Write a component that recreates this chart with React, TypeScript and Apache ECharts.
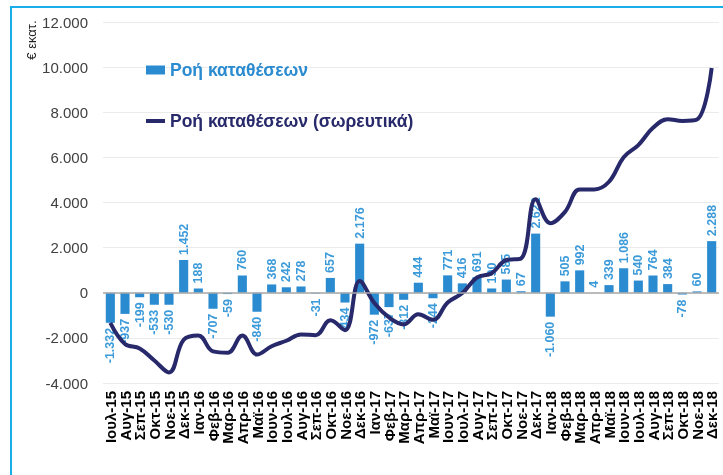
import React, { useEffect, useRef } from "react";
import * as echarts from "echarts";

const categories = [
  "Ιουλ-15", "Αυγ-15", "Σεπ-15", "Οκτ-15", "Νοε-15", "Δεκ-15",
  "Ιαν-16", "Φεβ-16", "Μαρ-16", "Απρ-16", "Μαϊ-16", "Ιουν-16",
  "Ιουλ-16", "Αυγ-16", "Σεπ-16", "Οκτ-16", "Νοε-16", "Δεκ-16",
  "Ιαν-17", "Φεβ-17", "Μαρ-17", "Απρ-17", "Μαϊ-17", "Ιουν-17",
  "Ιουλ-17", "Αυγ-17", "Σεπ-17", "Οκτ-17", "Νοε-17", "Δεκ-17",
  "Ιαν-18", "Φεβ-18", "Μαρ-18", "Απρ-18", "Μαϊ-18", "Ιουν-18",
  "Ιουλ-18", "Αυγ-18", "Σεπ-18", "Οκτ-18", "Νοε-18", "Δεκ-18",
];

const flows = [
  -1332, -937, -199, -533, -530, 1452,
  188, -707, -59, 760, -840, 368,
  242, 278, -31, 657, -434, 2176,
  -972, -637, -312, 444, -244, 771,
  416, 691, 190, 585, 67, 2622,
  -1060, 505, 992, 4, 339, 1086,
  540, 764, 384, -78, 60, 2288,
];

const cumulative = [
  -1332, -2269, -2468, -3001, -3531, -2079,
  -1891, -2598, -2657, -1897, -2737, -2369,
  -2127, -1849, -1880, -1223, -1657, 519,
  -453, -1090, -1402, -958, -1202, -431,
  -15, 676, 866, 1451, 1518, 4140,
  3080, 3585, 4577, 4581, 4920, 6006,
  6546, 7310, 7694, 7616, 7676, 9964,
];

const seriesNames = ["Ροή καταθέσεων", "Ροή καταθέσεων (σωρευτικά)"];

const BAR_COLOR = "#2a8bd1";
const LABEL_COLOR = "#3b9ad9";
const LINE_COLOR = "#27296b";
const FONT = "'Liberation Sans', Arial, sans-serif";

function fmt(v: number): string {
  const s = Math.abs(v).toString().replace(/\B(?=(\d{3})+(?!\d))/g, ".");
  return (v < 0 ? "-" : "") + s;
}

export default function App() {
  const ref = useRef<HTMLDivElement>(null);
  useEffect(() => {
    if (!ref.current) return;
    const chart = echarts.init(ref.current, null, { renderer: "svg" });
    chart.setOption({
      animation: false,
      textStyle: { fontFamily: FONT },
      graphic: [
        {
          type: "rect",
          shape: { x: 11, y: 7, width: 800, height: 600 },
          style: { fill: "none", stroke: "#19aeea", lineWidth: 2 },
          z: 0,
        },
        {
          type: "text",
          x: 31,
          y: 40,
          rotation: Math.PI / 2,
          style: {
            text: "€ εκατ.",
            font: `13px ${FONT}`,
            fill: "#222",
            align: "center",
            verticalAlign: "middle",
          },
        },
      ],
      legend: {
        orient: "vertical",
        left: 141,
        top: 56,
        itemGap: 33,
        itemWidth: 19,
        itemHeight: 9,
        symbolKeepAspect: true,
        textStyle: { fontSize: 17.5, fontWeight: "bold", fontFamily: FONT },
        data: [
          { name: seriesNames[0], icon: "rect", textStyle: { color: BAR_COLOR } },
          {
            name: seriesNames[1],
            icon: "path://M0,0h19v4h-19z",
            itemStyle: { color: LINE_COLOR },
            textStyle: { color: LINE_COLOR },
          },
        ],
      },
      grid: { left: 103, right: 4, top: 22, bottom: 92 },
      xAxis: {
        type: "category",
        data: categories,
        axisLine: { show: false, onZero: false },
        axisTick: { show: false },
        axisLabel: {
          rotate: 90,
          interval: 0,
          color: "#000",
          fontWeight: "bold",
          fontSize: 15,
          margin: 8,
          fontFamily: FONT,
        },
      },
      yAxis: {
        type: "value",
        min: -4000,
        max: 12000,
        interval: 2000,
        axisLine: { show: false },
        axisTick: { show: false },
        splitLine: { lineStyle: { color: "#ebebeb", width: 1 } },
        axisLabel: {
          color: "#404040",
          fontSize: 15,
          margin: 15,
          fontFamily: FONT,
          formatter: (v: number) => fmt(v),
        },
      },
      series: [
        {
          name: seriesNames[0],
          type: "bar",
          barWidth: "62%",
          itemStyle: { color: BAR_COLOR },
          data: flows.map((v) => ({
            value: v,
            label: {
              show: true,
              position: v >= 0 ? "top" : "bottom",
              rotate: 90,
              align: v >= 0 ? "left" : "right",
              verticalAlign: "middle",
              color: LABEL_COLOR,
              fontWeight: "bold",
              fontSize: 12.5,
              fontFamily: FONT,
              distance: 5,
              formatter: () => fmt(v),
            },
          })),
          markLine: {
            silent: true,
            symbol: "none",
            label: { show: false },
            lineStyle: { color: "#a8a8a8", type: "solid", width: 1.5 },
            data: [{ yAxis: 0 }],
          },
          z: 2,
        },
        {
          name: seriesNames[1],
          type: "line",
          smooth: 0.4,
          symbol: "none",
          lineStyle: { color: LINE_COLOR, width: 4 },
          itemStyle: { color: LINE_COLOR },
          data: cumulative,
          z: 3,
        },
      ],
    });
    return () => chart.dispose();
  }, []);
  return (
    <div
      ref={ref}
      style={{ position: "fixed", left: 0, top: 0, width: 723, height: 475 }}
    />
  );
}
